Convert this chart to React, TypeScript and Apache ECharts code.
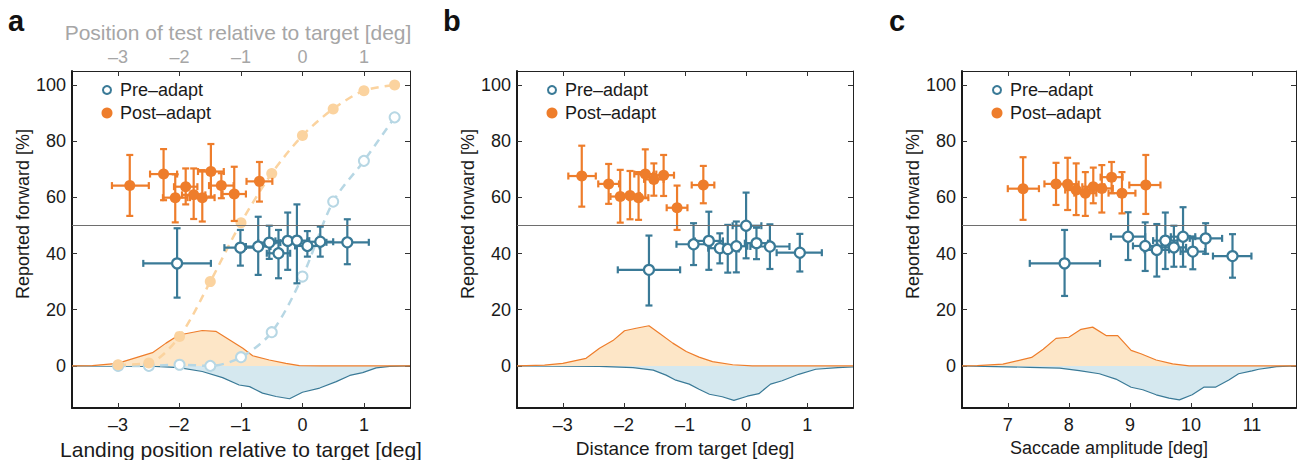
import React, { useEffect, useRef } from "react";
import * as echarts from "echarts";

// ---------- data ----------
// [x, y, xLow, xHigh, yLow, yHigh]
const aPost = [
  [-2.81, 64.2, -3.1, -2.5, 53.4, 75.1],
  [-2.26, 68.3, -2.48, -2.04, 59.0, 77.2],
  [-2.07, 59.9, -2.27, -1.87, 51.1, 68.2],
  [-1.9, 63.8, -2.09, -1.71, 57.5, 70.3],
  [-1.77, 60.9, -1.96, -1.58, 52.3, 70.3],
  [-1.63, 59.9, -1.83, -1.43, 51.4, 69.7],
  [-1.49, 69.2, -1.7, -1.28, 60.3, 79.0],
  [-1.32, 64.2, -1.52, -1.12, 59.7, 68.6],
  [-1.11, 61.2, -1.3, -0.92, 51.6, 70.9],
  [-0.7, 65.7, -0.91, -0.49, 58.5, 72.6],
];
const aPre = [
  [-2.04, 36.5, -2.59, -1.49, 24.3, 49.0],
  [-1.01, 42.1, -1.27, -0.75, 35.7, 48.4],
  [-0.72, 42.5, -0.92, -0.52, 32.4, 53.1],
  [-0.54, 43.9, -0.72, -0.36, 38.1, 49.9],
  [-0.39, 40.1, -0.58, -0.2, 31.2, 48.4],
  [-0.24, 44.5, -0.44, -0.04, 34.2, 54.6],
  [-0.09, 44.6, -0.29, 0.11, 29.4, 57.5],
  [0.08, 42.7, -0.12, 0.28, 38.9, 48.0],
  [0.29, 44.2, 0.08, 0.5, 38.9, 49.6],
  [0.73, 44.0, 0.39, 1.08, 36.2, 52.2],
];
const bPost = [
  [-2.69, 67.6, -2.91, -2.46, 56.7, 78.4],
  [-2.25, 64.8, -2.42, -2.08, 57.7, 71.9],
  [-2.06, 60.3, -2.22, -1.9, 51.0, 69.8],
  [-1.9, 60.7, -2.06, -1.74, 52.2, 69.4],
  [-1.76, 59.9, -1.92, -1.6, 52.0, 69.0],
  [-1.65, 68.3, -1.83, -1.47, 59.7, 77.1],
  [-1.51, 66.4, -1.67, -1.35, 60.6, 72.1],
  [-1.35, 67.9, -1.52, -1.18, 60.5, 75.1],
  [-1.13, 56.3, -1.3, -0.96, 48.4, 64.2],
  [-0.7, 64.4, -0.89, -0.52, 57.9, 71.2],
];
const bPre = [
  [-1.59, 34.2, -2.1, -1.08, 21.5, 46.4],
  [-0.86, 43.3, -1.14, -0.58, 35.9, 50.8],
  [-0.61, 44.5, -0.84, -0.38, 34.2, 54.9],
  [-0.43, 41.9, -0.62, -0.24, 36.5, 47.2],
  [-0.3, 41.6, -0.48, -0.12, 33.2, 50.2],
  [-0.16, 42.6, -0.34, 0.02, 33.3, 51.4],
  [0.0, 49.9, -0.22, 0.25, 38.3, 61.7],
  [0.17, 43.7, -0.02, 0.36, 38.0, 49.2],
  [0.39, 42.5, 0.07, 0.71, 34.5, 50.4],
  [0.88, 40.3, 0.5, 1.24, 33.6, 47.0],
];
const cPost = [
  [7.25, 63.1, 7.0, 7.51, 52.0, 74.3],
  [7.79, 64.8, 7.6, 7.98, 57.3, 72.3],
  [7.98, 64.7, 7.8, 8.16, 55.5, 74.1],
  [8.12, 62.6, 7.94, 8.3, 53.7, 72.1],
  [8.27, 61.5, 8.09, 8.45, 53.4, 69.0],
  [8.4, 63.8, 8.22, 8.58, 57.9, 70.6],
  [8.54, 63.2, 8.36, 8.72, 54.6, 71.5],
  [8.7, 67.2, 8.52, 8.88, 61.5, 72.6],
  [8.87, 61.5, 8.65, 9.09, 54.3, 69.0],
  [9.26, 64.4, 8.99, 9.5, 54.1, 75.1],
];
const cPre = [
  [7.93, 36.5, 7.36, 8.51, 24.9, 48.4],
  [8.97, 46.0, 8.69, 9.25, 37.7, 54.7],
  [9.25, 42.7, 9.05, 9.45, 33.8, 51.1],
  [9.44, 41.3, 9.24, 9.64, 31.8, 50.5],
  [9.58, 44.6, 9.38, 9.78, 34.5, 54.6],
  [9.72, 42.2, 9.52, 9.92, 35.3, 49.9],
  [9.87, 46.0, 9.67, 10.07, 35.3, 56.5],
  [10.03, 40.7, 9.83, 10.23, 34.4, 46.0],
  [10.24, 45.4, 9.98, 10.51, 39.9, 50.8],
  [10.68, 39.1, 10.36, 10.99, 31.4, 46.9],
];

// distributions [x, value]
const aPostDist = [
  [-3.75, 0], [-3.42, 0.1], [-3.01, 0.9], [-2.44, 4.7], [-2.22, 8.1], [-2.01, 11], [-1.63, 12.6],
  [-1.41, 12.3], [-1.19, 9.3], [-0.97, 6.3], [-0.81, 3.6], [-0.54, 2.1], [-0.27, 0.9], [-0.05, 0.1],
  [0.3, 0], [1.75, 0],
];
const aPreDist = [
  [-3.75, 0], [-2.4, -0.2], [-2.01, -0.6], [-1.63, -2.0], [-1.3, -4.2], [-1.03, -6.8], [-0.86, -7.4],
  [-0.65, -9.7], [-0.43, -10.9], [-0.21, -11.7], [0.0, -9.4], [0.28, -7.9], [0.55, -5.6], [0.77, -3.4],
  [0.98, -2.4], [1.2, -0.7], [1.42, -0.2], [1.75, 0],
];
const bPostDist = [
  [-3.75, 0], [-3.3, 0.3], [-3.0, 0.9], [-2.62, 2.7], [-2.4, 6.3], [-2.18, 9.0], [-1.99, 12.5],
  [-1.8, 13.4], [-1.59, 14.3], [-1.42, 11.6], [-1.2, 8.1], [-0.98, 5.1], [-0.77, 3.1], [-0.55, 1.5],
  [-0.22, 0.4], [0.1, 0], [1.75, 0],
];
const bPreDist = [
  [-3.75, 0], [-2.4, -0.2], [-1.85, -0.6], [-1.52, -1.5], [-1.31, -3.3], [-1.15, -5.1], [-0.93, -6.5],
  [-0.77, -8.3], [-0.6, -10.1], [-0.39, -11.0], [-0.2, -12.3], [0.02, -10.8], [0.21, -9.9], [0.4, -6.5],
  [0.59, -5.3], [0.86, -3.0], [1.14, -1.2], [1.5, -0.6], [1.75, -0.4],
];
const cPostDist = [
  [6.25, 0], [6.5, 0.1], [6.92, 0.6], [7.39, 3.0], [7.58, 5.9], [7.79, 9.8], [8.0, 10.2], [8.2, 13.0],
  [8.39, 13.8], [8.61, 10.8], [8.8, 10.8], [9.02, 5.5], [9.18, 4.3], [9.43, 2.1], [9.7, 0.7], [9.97, 0],
  [11.72, 0],
];
const cPreDist = [
  [6.25, 0], [7.36, -0.5], [7.85, -0.8], [8.17, -1.7], [8.5, -2.8], [8.77, -4.7], [9.02, -7.6],
  [9.21, -8.5], [9.43, -10.3], [9.64, -11.5], [9.81, -12.1], [10.02, -10.3], [10.21, -7.6], [10.4, -7.6],
  [10.62, -5.0], [10.78, -2.8], [11.0, -1.8], [11.11, -1.2], [11.4, -0.3], [11.72, 0],
];

// psychometric curves (panel a)
const psyX = [-3, -2.5, -2, -1.5, -1, -0.5, 0, 0.5, 1, 1.5];
const psyPost = [0.4, 1, 10.5, 30, 51, 68.5, 82, 91.5, 98, 100];
const psyPre = [0, 0, 0.4, 0, 3.1, 12, 31.8, 58.5, 73, 88.5];

// ticks
const abTicks = [-3, -2, -1, 0, 1];
const cTicks = [7, 8, 9, 10, 11];
const yTicks = [0, 20, 40, 60, 80, 100];

const xNames = [
  "Landing position relative to target [deg]",
  "Distance from target [deg]",
  "Saccade amplitude [deg]",
];
const topName = "Position of test relative to target [deg]";
const yName = "Reported forward [%]";
const panelLetters = ["a", "b", "c"];
const legendNames = ["Pre\u2013adapt", "Post\u2013adapt"];

// ---------- styles ----------
const FONT = "'Liberation Sans', Arial, Helvetica, sans-serif";
const ORANGE = "#EE7D2B";
const BLUE = "#3A7A97";
const ORANGE_FADE = "#FBD39F";
const BLUE_FADE = "#B7D7E4";
const ORANGE_FILL = "#FDE6C7";
const BLUE_FILL = "#D5E8EF";
const INK = "#1a1a1a";

const grids = [
  { left: 72, top: 71, width: 338, height: 337 },
  { left: 517, top: 71, width: 336, height: 337 },
  { left: 962, top: 71, width: 334, height: 337 },
];
const xRanges = [
  [-3.75, 1.75],
  [-3.75, 1.75],
  [6.25, 11.72],
];
const xNameSize = [21, 19, 18];
const xNamePad = [[0, 0, 0, 0], [0, 0, 0, 0], [0, 40, 0, 0]];

const fmt = (v: number) => (v < 0 ? "\u2013" + Math.abs(v) : String(v));

function errRender(color: string) {
  return (params: any, api: any) => {
    const x = api.value(0), y = api.value(1);
    const c = api.coord([x, y]);
    const xl = api.coord([api.value(2), y])[0];
    const xh = api.coord([api.value(3), y])[0];
    const yl = api.coord([x, api.value(4)])[1];
    const yh = api.coord([x, api.value(5)])[1];
    const cap = 3.5;
    const style = { stroke: color, lineWidth: 2.2 };
    return {
      type: "group",
      children: [
        { type: "line", shape: { x1: xl, y1: c[1], x2: xh, y2: c[1] }, style },
        { type: "line", shape: { x1: c[0], y1: yl, x2: c[0], y2: yh }, style },
        { type: "line", shape: { x1: xl, y1: c[1] - cap, x2: xl, y2: c[1] + cap }, style },
        { type: "line", shape: { x1: xh, y1: c[1] - cap, x2: xh, y2: c[1] + cap }, style },
        { type: "line", shape: { x1: c[0] - cap, y1: yl, x2: c[0] + cap, y2: yl }, style },
        { type: "line", shape: { x1: c[0] - cap, y1: yh, x2: c[0] + cap, y2: yh }, style },
      ],
    };
  };
}

function buildOption() {
  const xAxis: any[] = [];
  const yAxis: any[] = [];
  const series: any[] = [];
  const graphic: any[] = [];
  const panels = [
    { pre: aPre, post: aPost, preD: aPreDist, postD: aPostDist },
    { pre: bPre, post: bPost, preD: bPreDist, postD: bPostDist },
    { pre: cPre, post: cPost, preD: cPreDist, postD: cPostDist },
  ];
  panels.forEach((p, i) => {
    const ticks = i === 2 ? cTicks : abTicks;
    const [mn, mx] = xRanges[i];
    xAxis.push({
      type: "value", gridIndex: i, position: "bottom", min: mn, max: mx,
      axisLine: { show: true, onZero: false, lineStyle: { color: INK, width: 2 } },
      axisTick: { show: true, inside: true, length: 5, customValues: ticks, lineStyle: { color: "#333", width: 1 } },
      axisLabel: { customValues: ticks, formatter: fmt, color: INK, fontSize: 18, fontFamily: FONT, margin: 8 },
      splitLine: { show: false },
      name: xNames[i], nameLocation: "middle", nameGap: 27,
      nameTextStyle: { fontSize: xNameSize[i], color: INK, fontFamily: FONT, padding: xNamePad[i] },
    });
    xAxis.push({
      type: "value", gridIndex: i, position: "top", min: mn, max: mx,
      axisLine: { show: true, onZero: false, lineStyle: { color: "#222", width: 1 } },
      axisTick: { show: true, inside: true, length: 5, customValues: ticks, lineStyle: { color: "#333", width: 1 } },
      axisLabel: i === 0
        ? { show: true, customValues: ticks, formatter: fmt, color: "#a6a6a6", fontSize: 18, fontFamily: FONT, margin: 5 }
        : { show: false },
      splitLine: { show: false },
      name: i === 0 ? topName : "", nameLocation: "middle", nameGap: 28,
      nameTextStyle: { fontSize: 21, color: "#a6a6a6", fontFamily: FONT, padding: [0, 6, 0, 0] },
    });
    yAxis.push({
      type: "value", gridIndex: i, position: "left", min: -15, max: 105,
      axisLine: { show: true, onZero: false, lineStyle: { color: INK, width: 2 } },
      axisTick: { show: true, inside: true, length: 5, customValues: yTicks, lineStyle: { color: "#333", width: 1 } },
      axisLabel: { customValues: yTicks, color: INK, fontSize: 18, fontFamily: FONT, margin: 6 },
      splitLine: { show: false },
    });
    yAxis.push({
      type: "value", gridIndex: i, position: "right", min: -15, max: 105,
      axisLine: { show: true, onZero: false, lineStyle: { color: "#222", width: 1 } },
      axisTick: { show: true, inside: true, length: 5, customValues: yTicks, lineStyle: { color: "#333", width: 1 } },
      axisLabel: { show: false },
      splitLine: { show: false },
    });
    const xi = 2 * i, yi = 2 * i;
    series.push({
      type: "line", xAxisIndex: xi, yAxisIndex: yi, data: p.preD, symbol: "none", z: 1,
      lineStyle: { color: BLUE, width: 1.2 }, areaStyle: { color: BLUE_FILL, opacity: 1 },
      markLine: {
        silent: true, symbol: "none", label: { show: false },
        lineStyle: { color: "#6e6e6e", width: 1, type: "solid" },
        data: [{ yAxis: 50 }],
      },
    });
    series.push({
      type: "line", xAxisIndex: xi, yAxisIndex: yi, data: p.postD, symbol: "none", z: 2,
      lineStyle: { color: ORANGE, width: 1.2 }, areaStyle: { color: ORANGE_FILL, opacity: 1 },
    });
    if (i === 0) {
      series.push({
        type: "line", xAxisIndex: xi, yAxisIndex: yi, z: 3, smooth: 0.3,
        data: psyX.map((x, k) => [x, psyPre[k]]),
        symbol: "circle", symbolSize: 10, showSymbol: true,
        lineStyle: { color: BLUE_FADE, width: 2.5, type: [8, 6] },
        itemStyle: { color: "#fff", borderColor: BLUE_FADE, borderWidth: 2 },
      });
      series.push({
        type: "line", xAxisIndex: xi, yAxisIndex: yi, z: 3, smooth: 0.3,
        data: psyX.map((x, k) => [x, psyPost[k]]),
        symbol: "circle", symbolSize: 11, showSymbol: true,
        lineStyle: { color: ORANGE_FADE, width: 2.5, type: [8, 6] },
        itemStyle: { color: ORANGE_FADE, borderWidth: 0 },
      });
    }
    series.push({
      type: "custom", xAxisIndex: xi, yAxisIndex: yi, z: 4, data: p.pre,
      encode: { x: [0, 2, 3], y: [1, 4, 5] }, renderItem: errRender(BLUE),
    });
    series.push({
      type: "custom", xAxisIndex: xi, yAxisIndex: yi, z: 4, data: p.post,
      encode: { x: [0, 2, 3], y: [1, 4, 5] }, renderItem: errRender(ORANGE),
    });
    series.push({
      type: "scatter", xAxisIndex: xi, yAxisIndex: yi, z: 5, name: legendNames[0],
      data: p.pre.map((d) => [d[0], d[1]]), symbol: "circle", symbolSize: 10,
      itemStyle: { color: "#fff", borderColor: BLUE, borderWidth: 2.2, opacity: 1 },
    });
    series.push({
      type: "scatter", xAxisIndex: xi, yAxisIndex: yi, z: 5, name: legendNames[1],
      data: p.post.map((d) => [d[0], d[1]]), symbol: "circle", symbolSize: 11,
      itemStyle: { color: ORANGE, opacity: 1 },
    });

    const gl = grids[i].left;
    graphic.push(
      { type: "circle", shape: { cx: gl + 35, cy: 90, r: 4 }, style: { fill: "#fff", stroke: BLUE, lineWidth: 2 }, z: 10 },
      { type: "text", x: gl + 48, y: 90, style: { text: legendNames[0], fill: INK, font: `18px ${FONT}`, verticalAlign: "middle" }, z: 10 },
      { type: "circle", shape: { cx: gl + 35, cy: 113, r: 5.5 }, style: { fill: ORANGE }, z: 10 },
      { type: "text", x: gl + 48, y: 113, style: { text: legendNames[1], fill: INK, font: `18px ${FONT}`, verticalAlign: "middle" }, z: 10 },
      { type: "text", x: [8, 443, 889][i], y: 21, style: { text: panelLetters[i], fill: "#111", font: `bold 29px ${FONT}`, verticalAlign: "middle" }, z: 10 },
      {
        type: "text", x: gl - 49, y: 214, rotation: Math.PI / 2,
        style: { text: yName, fill: INK, font: `18px ${FONT}`, align: "center", verticalAlign: "middle" }, z: 10,
      }
    );
  });
  return {
    animation: false,
    backgroundColor: "#fff",
    grid: grids.map((g) => ({ ...g, containLabel: false, outerBoundsMode: "none" })),
    xAxis, yAxis, series, graphic,
  };
}

export default function App() {
  const ref = useRef<HTMLDivElement>(null);
  useEffect(() => {
    if (!ref.current) return;
    const chart = echarts.init(ref.current, undefined, { renderer: "svg" });
    chart.setOption(buildOption() as any);
    return () => chart.dispose();
  }, []);
  return <div ref={ref} style={{ position: "fixed", left: 0, top: 0, width: 1297, height: 460 }} />;
}
